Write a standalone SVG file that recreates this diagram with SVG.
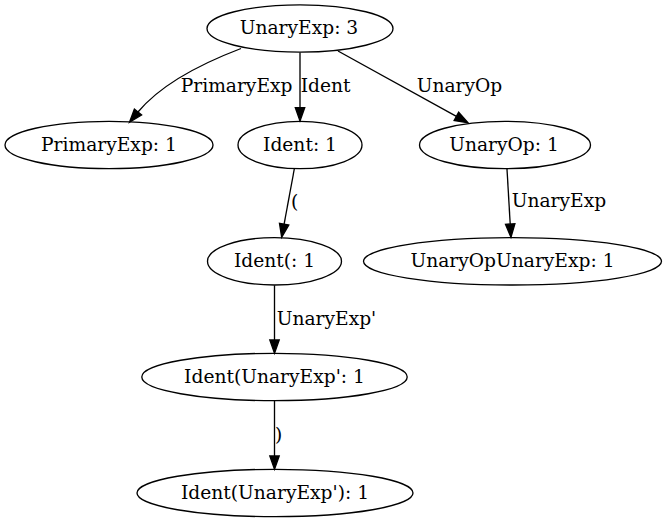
<svg xmlns="http://www.w3.org/2000/svg" width="667" height="523" viewBox="0 0 667 523">
<style>
.node ellipse{fill:none;stroke:#000;stroke-width:1.33}
.node text{font-family:"DejaVu Serif",serif;font-size:18.67px;text-anchor:middle;fill:#000}
.edge path{fill:none;stroke:#000;stroke-width:1.33}
.edge text{font-family:"DejaVu Serif",serif;font-size:18.67px;text-anchor:start;fill:#000}
</style>
<defs>
<marker id="arr" markerUnits="userSpaceOnUse" viewBox="0 0 13.3 9.4" refX="0" refY="4.7" markerWidth="13.3" markerHeight="9.4" orient="auto" overflow="visible">
<path d="M0,0 L13.3,4.7 L0,9.4 Z" fill="#000" stroke="#000" stroke-width="1.33"/>
</marker>
</defs>
<rect width="667" height="523" fill="#fff"/>
<g id="edges">
<g class="edge"><path d="M241,48.5 C195,66 158,88 138,112" marker-end="url(#arr)"/><text x="180.7" y="92">PrimaryExp</text></g>
<g class="edge"><path d="M300,52.5 L300,107.7" marker-end="url(#arr)"/><text x="300.7" y="92">Ident</text></g>
<g class="edge"><path d="M338,51 L456.4,116.3" marker-end="url(#arr)"/><text x="416.7" y="92">UnaryOp</text></g>
<g class="edge"><path d="M294.3,169 L284.1,224.2" marker-end="url(#arr)"/><text x="291" y="208">(</text></g>
<g class="edge"><path d="M507,169 L510.2,224" marker-end="url(#arr)"/><text x="511.7" y="207">UnaryExp</text></g>
<g class="edge"><path d="M274.5,285.3 L274.5,340" marker-end="url(#arr)"/><text x="276.7" y="325">UnaryExp'</text></g>
<g class="edge"><path d="M274.5,401 L274.5,456" marker-end="url(#arr)"/><text x="275" y="441">)</text></g>
</g>
<g id="n0" class="node"><ellipse cx="300" cy="28.5" rx="93" ry="23.7"/><text x="299" y="34">UnaryExp: 3</text></g>
<g id="n1" class="node"><ellipse cx="109" cy="145" rx="104" ry="23.7"/><text x="109" y="150.5">PrimaryExp: 1</text></g>
<g id="n2" class="node"><ellipse cx="300" cy="145" rx="62" ry="23.7"/><text x="300" y="150.5">Ident: 1</text></g>
<g id="n3" class="node"><ellipse cx="505" cy="145" rx="85.5" ry="23.7"/><text x="504" y="150.5">UnaryOp: 1</text></g>
<g id="n4" class="node"><ellipse cx="274.5" cy="261.3" rx="67" ry="23.7"/><text x="274.5" y="266.8">Ident(: 1</text></g>
<g id="n5" class="node"><ellipse cx="512.5" cy="261.3" rx="149" ry="23.7"/><text x="512.5" y="266.8">UnaryOpUnaryExp: 1</text></g>
<g id="n6" class="node"><ellipse cx="274.5" cy="377" rx="132.7" ry="23.7"/><text x="274.5" y="382.5">Ident(UnaryExp': 1</text></g>
<g id="n7" class="node"><ellipse cx="275" cy="493" rx="138" ry="23.7"/><text x="275" y="498.5">Ident(UnaryExp'): 1</text></g>
</svg>
